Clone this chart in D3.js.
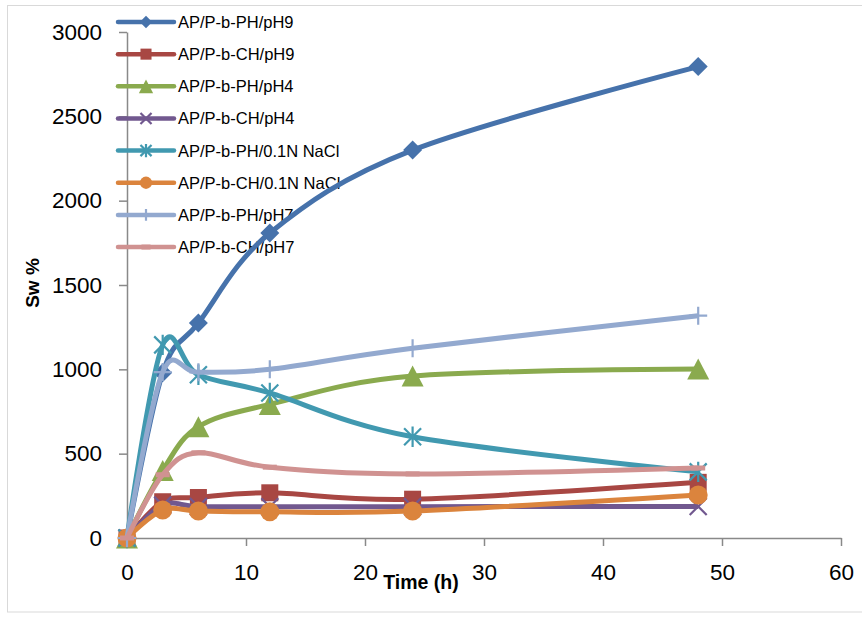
<!DOCTYPE html>
<html>
<head>
<meta charset="utf-8">
<script src="https://cdn.jsdelivr.net/npm/d3@7"></script>
<style>
  html, body { margin: 0; padding: 0; background: #fff; }
  svg { display: block; }
</style>
</head>
<body>
<svg id="chart" width="862" height="617"></svg>
<script>
// ---- data ----
const times = [0, 3, 6, 12, 24, 48];
const seriesNames = [
  "AP/P-b-PH/pH9", "AP/P-b-CH/pH9", "AP/P-b-PH/pH4", "AP/P-b-CH/pH4",
  "AP/P-b-PH/0.1N NaCl", "AP/P-b-CH/0.1N NaCl", "AP/P-b-PH/pH7", "AP/P-b-CH/pH7"
];
const PH_pH9   = [0, 980, 1275, 1808, 2300, 2795];
const CH_pH9   = [0, 215, 240, 268, 230, 330];
const PH_pH4   = [0, 400, 660, 792, 960, 1002];
const CH_pH4   = [0, 195, 186, 185, 186, 187];
const PH_NaCl  = [0, 1145, 968, 860, 600, 392];
const CH_NaCl  = [0, 166, 160, 155, 160, 255];
const PH_pH7   = [0, 984, 982, 1000, 1125, 1318];
const CH_pH7   = [0, 375, 505, 420, 380, 415];
const xTicks = [0, 10, 20, 30, 40, 50, 60];
const yTicks = [0, 500, 1000, 1500, 2000, 2500, 3000];

const seriesValues = [PH_pH9, CH_pH9, PH_pH4, CH_pH4, PH_NaCl, CH_NaCl, PH_pH7, CH_pH7];
const colors = ["#4672AB", "#A84743", "#8AAA4E", "#71588F", "#4199B0", "#DB843D", "#93A9CF", "#D09291"];
const markers = ["diamond", "square", "triangle", "x", "star", "circle", "plus", "dash"];

const svg = d3.select("#chart");
const FONT = "'Liberation Sans', Arial, sans-serif";

// chart border
svg.append("rect").attr("x", 7.5).attr("y", 5.5).attr("width", 900).attr("height", 606.5)
  .attr("fill", "none").attr("stroke", "#D9D9D9").attr("stroke-width", 1);

const x = d3.scaleLinear().domain([0, 60]).range([127, 841]);
const y = d3.scaleLinear().domain([0, 3000]).range([538, 32]);

// axes
const xAxis = svg.append("g").attr("transform", "translate(0,538)")
  .call(d3.axisBottom(x).tickValues(xTicks).tickSize(8).tickSizeOuter(0).tickPadding(18).tickFormat(d3.format("d")));
const yAxis = svg.append("g").attr("transform", "translate(127,0)")
  .call(d3.axisLeft(y).tickValues(yTicks).tickSize(8).tickSizeOuter(0).tickPadding(17).tickFormat(d3.format("d")));
[xAxis, yAxis].forEach(a => {
  a.select(".domain").attr("stroke", "#898989").attr("stroke-width", 1.5);
  a.selectAll(".tick line").attr("stroke", "#898989").attr("stroke-width", 1.5);
  a.selectAll(".tick text").attr("fill", "#000").style("font-family", FONT).style("font-size", "22.5px");
});

// axis titles
svg.append("text").attr("transform", "translate(39,283) rotate(-90)")
  .attr("text-anchor", "middle").style("font-family", FONT).style("font-weight", "bold")
  .style("font-size", "19px").text("Sw %");
svg.append("text").attr("x", 421).attr("y", 589)
  .attr("text-anchor", "middle").style("font-family", FONT).style("font-weight", "bold")
  .style("font-size", "19.5px").text("Time (h)");

// marker drawing
function drawMarker(g, type, cx, cy, color, s) {
  const h = 9.5 * s;
  if (type === "diamond") {
    g.append("path").attr("d", `M${cx},${cy - h}L${cx + h},${cy}L${cx},${cy + h}L${cx - h},${cy}Z`).attr("fill", color);
  } else if (type === "square") {
    const a = 8.5 * s;
    g.append("rect").attr("x", cx - a).attr("y", cy - a).attr("width", 2 * a).attr("height", 2 * a).attr("fill", color);
  } else if (type === "triangle") {
    const w = 11 * s, t = 10.5 * s;
    g.append("path").attr("d", `M${cx},${cy - t}L${cx + w},${cy + t}L${cx - w},${cy + t}Z`).attr("fill", color);
  } else if (type === "circle") {
    g.append("circle").attr("cx", cx).attr("cy", cy).attr("r", 9.5 * s).attr("fill", color);
  } else if (type === "x") {
    const a = 8.5 * s;
    g.append("path").attr("d", `M${cx - a},${cy - a}L${cx + a},${cy + a}M${cx - a},${cy + a}L${cx + a},${cy - a}`)
      .attr("stroke", color).attr("stroke-width", 2.2).attr("fill", "none");
  } else if (type === "star") {
    const a = 8.5 * s;
    g.append("path").attr("d", `M${cx - a},${cy - a}L${cx + a},${cy + a}M${cx - a},${cy + a}L${cx + a},${cy - a}M${cx},${cy - a * 1.2}L${cx},${cy + a * 1.2}`)
      .attr("stroke", color).attr("stroke-width", 2.2).attr("fill", "none");
  } else if (type === "plus") {
    const a = 9 * s;
    g.append("path").attr("d", `M${cx - a},${cy}L${cx + a},${cy}M${cx},${cy - a}L${cx},${cy + a}`)
      .attr("stroke", color).attr("stroke-width", 2.2).attr("fill", "none");
  } else if (type === "dash") {
    const a = 7 * s;
    g.append("path").attr("d", `M${cx - a},${cy}L${cx + a},${cy}`)
      .attr("stroke", color).attr("stroke-width", 5).attr("fill", "none");
  }
}

// legend
const legend = svg.append("g");
seriesNames.forEach((name, i) => {
  const ly = 22 + i * 32.15;
  legend.append("line").attr("x1", 118).attr("x2", 174).attr("y1", ly).attr("y2", ly)
    .attr("stroke", colors[i]).attr("stroke-width", 4.5).attr("stroke-linecap", "round");
  drawMarker(legend, markers[i], 146, ly, colors[i], 0.65);
  legend.append("text").attr("x", 178).attr("y", ly).attr("dy", "0.36em")
    .style("font-family", FONT).style("font-size", "16.5px").attr("fill", "#000").text(name);
});

// series
const line = d3.line().x(d => x(d[0])).y(d => y(d[1])).curve(d3.curveCardinal.tension(0));
seriesValues.forEach((vals, i) => {
  const pts = times.map((t, j) => [t, vals[j]]);
  const g = svg.append("g");
  g.append("path").datum(pts).attr("d", line).attr("fill", "none")
    .attr("stroke", colors[i]).attr("stroke-width", 5).attr("stroke-linejoin", "round");
  pts.forEach(p => drawMarker(g, markers[i], x(p[0]), y(p[1]), colors[i], 1));
});
</script>
</body>
</html>
